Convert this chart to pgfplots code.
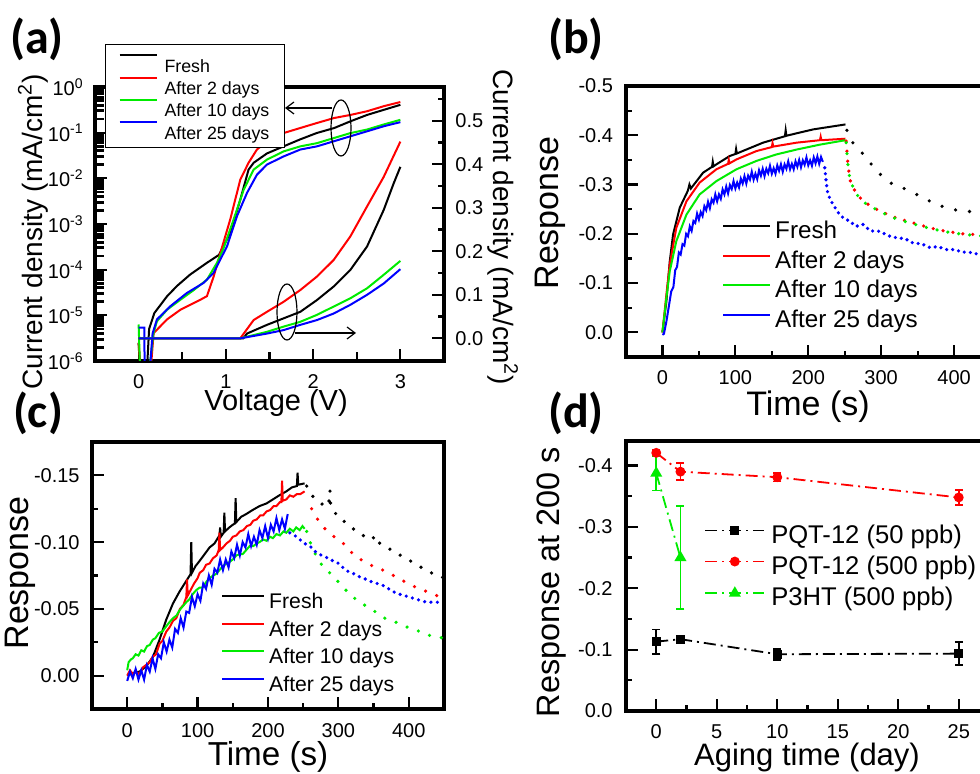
\documentclass[border=0pt]{standalone}
\usepackage{fontspec}
\setmainfont{Liberation Sans}
\newfontfamily\panelfont{Carlito}
\usepackage{pgfplots}
\pgfplotsset{compat=1.18}
\usetikzlibrary{arrows.meta}

\definecolor{cred}{RGB}{255,0,0}
\definecolor{cgreen}{RGB}{0,235,0}
\definecolor{cblue}{RGB}{0,0,255}

\pgfplotsset{
  panel/.style={
    scale only axis, anchor=south west,
    axis line style={line width=1.6pt},
    tick align=inside, major tick length=6pt, minor tick length=3pt,
    every tick/.append style={black, line width=1.1pt},
    tick label style={font=\fontsize{10}{12}\selectfont, inner sep=0pt},
    /pgf/number format/assume math mode=true,
    xticklabel shift=6.5pt, yticklabel shift=5.5pt,
  },
  sol/.style={line width=1pt, no markers},
  dots/.style={line width=1.8pt, line cap=round, dash pattern=on 0pt off #1, no markers, forget plot},
  dots/.default=4pt,
  dd/.style={line width=0.9pt, dash pattern=on 6pt off 2.5pt on 1pt off 2.5pt},
}

\begin{document}
\begin{tikzpicture}
\useasboundingbox (0,0) rectangle (490pt,387pt);
\clip (0,0) rectangle (490pt,387pt);

% ---------- (a) log axis ----------
\begin{axis}[panel, at={(47.5pt,206.5pt)}, width=174.5pt, height=137pt,
  ymode=log, xmin=-0.5, xmax=3.5, ymin=1e-6, ymax=1,
  xtick={0,1,2,3}, minor xtick={0.5,1.5,2.5},
  ytick={1e-6,1e-5,1e-4,1e-3,1e-2,1e-1,1},
  yticklabels={10\textsuperscript{-6},10\textsuperscript{-5},10\textsuperscript{-4},10\textsuperscript{-3},10\textsuperscript{-2},10\textsuperscript{-1},10\textsuperscript{0}},
  minor ytick={2e-6,3e-6,4e-6,5e-6,6e-6,7e-6,8e-6,9e-6,
    2e-5,3e-5,4e-5,5e-5,6e-5,7e-5,8e-5,9e-5,
    2e-4,3e-4,4e-4,5e-4,6e-4,7e-4,8e-4,9e-4,
    2e-3,3e-3,4e-3,5e-3,6e-3,7e-3,8e-3,9e-3,
    2e-2,3e-2,4e-2,5e-2,6e-2,7e-2,8e-2,9e-2,
    0.2,0.3,0.4,0.5,0.6,0.7,0.8,0.9},
  minor y tick style={line width=1.4pt},
  minor tick length=4.5pt,
  xtick pos=bottom, ytick pos=left,
  legend style={at={(axis description cs:0.0287,1.157)}, anchor=north west,
    draw=black, line width=0.5pt, fill=white, inner xsep=6.5pt, inner ysep=3pt,
    font=\fontsize{8.9}{10}\selectfont, row sep=-1.1pt,
    nodes={inner sep=1pt, text height=1.0em, text depth=0.02em},
    /tikz/every odd column/.append style={column sep=2.5pt}},
  legend image code/.code={\draw[#1] (0pt,0.36em) -- (18.5pt,0.36em);},
  legend cell align=left,
]
\addplot[sol, black] coordinates {(0.0,2.5e-6) (0.02,4e-7) (0.09,4e-7) (0.12,5e-6) (0.18,1.12e-5)
  (0.325,2.6e-5) (0.44,4.4e-5) (0.59,7.8e-5) (0.78,1.4e-4) (0.92,2.1e-4) (1.05,6.3e-4)
  (1.165,3.4e-3) (1.26,1.55e-2) (1.32,2.2e-2) (1.47,3.5e-2) (1.66,5.0e-2) (1.85,7.1e-2)
  (2.04,9.8e-2) (2.24,0.126) (2.43,0.178) (2.62,0.245) (2.81,0.316) (3.0,0.407)};
\addlegendentry{Fresh}
\addplot[sol, cred] coordinates {(0.0,2.5e-6) (0.03,4e-7) (0.13,4e-7) (0.172,4.07e-6) (0.325,8.13e-6)
  (0.478,1.32e-5) (0.707,2.19e-5) (0.783,2.63e-5) (0.86,7.08e-5) (0.936,2.29e-4) (1.05,1.26e-3)
  (1.165,9.33e-3) (1.26,2.19e-2) (1.356,4.27e-2) (1.47,6.46e-2) (1.66,9.77e-2) (1.85,0.126)
  (2.04,0.162) (2.24,0.209) (2.43,0.245) (2.62,0.295) (2.81,0.380) (3.0,0.468)};
\addlegendentry{After 2 days}
\addplot[sol, cgreen] coordinates {(0.0,6.3e-6) (0.02,4e-7) (0.11,4e-7) (0.17,4e-6) (0.21,7.41e-6)
  (0.325,1.32e-5) (0.478,2.19e-5) (0.63,3.55e-5) (0.783,6.03e-5) (0.898,1.41e-4) (0.974,2.95e-4)
  (1.089,1.26e-3) (1.204,5.62e-3) (1.318,1.55e-2) (1.471,2.57e-2) (1.662,3.89e-2) (1.853,5.01e-2)
  (2.044,5.89e-2) (2.235,7.59e-2) (2.426,9.77e-2) (2.618,0.117) (2.809,0.151) (3.0,0.191)};
\addlegendentry{After 10 days}
\addplot[sol, cblue] coordinates {(0.0,5.4e-6) (0.065,5.4e-6) (0.07,4e-7) (0.12,4e-7) (0.16,4e-6)
  (0.21,8.13e-6) (0.363,1.58e-5) (0.554,3.09e-5) (0.745,5.13e-5) (0.86,8.51e-5) (0.936,1.66e-4)
  (1.013,3.24e-4) (1.127,1.48e-3) (1.242,4.79e-3) (1.356,1.20e-2) (1.471,2.0e-2) (1.662,3.02e-2)
  (1.853,4.27e-2) (2.044,5.01e-2) (2.235,6.46e-2) (2.426,8.32e-2) (2.618,0.107) (2.809,0.138) (3.0,0.170)};
\addlegendentry{After 25 days}
\end{axis}

% ---------- (a) linear right axis ----------
\begin{axis}[panel, at={(47.5pt,206.5pt)}, width=174.5pt, height=137pt,
  xmin=-0.5, xmax=3.5, ymin=-0.052, ymax=0.5775,
  axis x line=none, axis y line*=right,
  ytick={0,0.1,0.2,0.3,0.4,0.5}, yticklabels={0.0,0.1,0.2,0.3,0.4,0.5},
  minor ytick={0.05,0.15,0.25,0.35,0.45,0.55},
]
\addplot[sol, black] coordinates {(0,0) (1.2,0) (1.242,0.011) (1.471,0.031) (1.662,0.046) (1.853,0.061)
  (2.044,0.088) (2.235,0.119) (2.426,0.157) (2.618,0.211) (2.809,0.295) (2.923,0.356) (3.0,0.394)};
\addplot[sol, cred] coordinates {(0,0) (1.165,0) (1.318,0.042) (1.471,0.061) (1.662,0.084) (1.853,0.111)
  (2.044,0.142) (2.235,0.18) (2.426,0.234) (2.618,0.303) (2.809,0.371) (3.0,0.452)};
\addplot[sol, cgreen] coordinates {(0,0) (1.165,0) (1.471,0.015) (1.662,0.027) (1.853,0.038) (2.044,0.054)
  (2.235,0.073) (2.426,0.092) (2.618,0.115) (2.809,0.146) (3.0,0.178)};
\addplot[sol, cblue] coordinates {(0,0) (1.165,0) (1.471,0.011) (1.662,0.019) (1.853,0.031) (2.044,0.042)
  (2.235,0.057) (2.426,0.077) (2.618,0.10) (2.809,0.126) (3.0,0.159)};
\end{axis}

% ---------- (b) ----------
\begin{axis}[panel, at={(313pt,208.5pt)}, width=200.5pt, height=135.5pt,
  xmin=-50, xmax=500, ymin=-0.5, ymax=0.05, y dir=reverse,
  xtick={0,100,200,300,400,500}, minor xtick={50,150,250,350,450},
  ytick={-0.5,-0.4,-0.3,-0.2,-0.1,0}, yticklabels={-0.5,-0.4,-0.3,-0.2,-0.1,0.0},
  minor ytick={-0.45,-0.35,-0.25,-0.15,-0.05},
  xtick pos=bottom, ytick pos=left,
  yticklabel shift=6.3pt,
  legend style={at={(axis description cs:0.239,0.502)}, anchor=north west,
    draw=none, fill=none, inner sep=0pt,
    font=\fontsize{12.1}{14}\selectfont, row sep=3.2pt,
    nodes={inner sep=1pt, text height=0.75em, text depth=0.22em},
    /tikz/every odd column/.append style={column sep=1pt}},
  legend image code/.code={\draw[#1] (0pt,0.36em) -- (23.5pt,0.36em);},
  legend cell align=left,
]
\addplot[sol, black] coordinates {(0,0) (5.4,-0.063) (10,-0.144) (14.6,-0.199) (23.7,-0.253) (35,-0.288)
  (37,-0.30) (39,-0.292) (55.7,-0.324) (68,-0.336) (69,-0.346) (70,-0.337) (74,-0.341) (92.4,-0.358)
  (100,-0.362) (101,-0.372) (102,-0.363) (115,-0.371) (138,-0.385) (161,-0.395) (168,-0.398)
  (169,-0.41) (170,-0.399) (184,-0.404) (207,-0.412) (229,-0.417) (251,-0.422)};
\addlegendentry{Fresh}
\addplot[sol, cred] coordinates {(0,0) (5.4,-0.077) (10,-0.138) (19,-0.212) (32.9,-0.266) (51,-0.304)
  (74,-0.331) (90,-0.342) (91,-0.35) (92,-0.343) (101.5,-0.351) (129,-0.368) (150,-0.376) (151,-0.384)
  (152,-0.377) (156,-0.378) (184,-0.385) (216,-0.39) (217,-0.397) (218,-0.39) (251,-0.393)};
\addlegendentry{After 2 days}
\addplot[sol, cgreen] coordinates {(0,0) (5.4,-0.07) (10,-0.124) (19,-0.185) (32.9,-0.239) (51,-0.28)
  (74,-0.307) (101.5,-0.331) (129,-0.348) (156,-0.361) (184,-0.371) (216,-0.381) (251,-0.39)};
\addlegendentry{After 10 days}
\addplot[sol, cblue] coordinates {(0,0.005) (2,0.003) (5.4,-0.022) (9,-0.055) (12,-0.083) (15,-0.092)
  (17.5,-0.126) (20,-0.133) (22.5,-0.162) (25,-0.158) (27.5,-0.179) (30,-0.176) (32.5,-0.200)
  (35,-0.195) (37.5,-0.215) (40,-0.206) (42.5,-0.226) (45,-0.222) (47.5,-0.241) (50,-0.229)
  (52.5,-0.244) (55,-0.236) (57.5,-0.256) (60,-0.248) (62.5,-0.265) (65,-0.252) (67.5,-0.270)
  (70,-0.263) (72.5,-0.280) (75,-0.266) (77.5,-0.280) (80,-0.271) (82.5,-0.290) (85,-0.280)
  (87.5,-0.296) (90,-0.282) (92.5,-0.299) (95,-0.291) (97.5,-0.307) (100,-0.292) (102.5,-0.304)
  (105,-0.294) (107.5,-0.312) (110,-0.302) (112.5,-0.317) (115,-0.302) (117.5,-0.318) (120,-0.310)
  (122.5,-0.326) (125,-0.310) (127.5,-0.322) (130,-0.311) (132.5,-0.329) (135,-0.318) (137.5,-0.332)
  (140,-0.317) (142.5,-0.332) (145,-0.323) (147.5,-0.338) (150,-0.322) (152.5,-0.333) (155,-0.322)
  (157.5,-0.339) (160,-0.328) (162.5,-0.341) (165,-0.326) (167.5,-0.341) (170,-0.332) (172.5,-0.347)
  (175,-0.331) (177.5,-0.342) (180,-0.331) (182.5,-0.347) (185,-0.336) (187.5,-0.350) (190,-0.335)
  (192.5,-0.349) (195,-0.340) (197.5,-0.355) (200,-0.339) (202.5,-0.349) (205,-0.338) (207.5,-0.355)
  (210,-0.343) (212.5,-0.357) (215,-0.342) (217.5,-0.356) (220,-0.346)};
\addlegendentry{After 25 days}
\addplot[dots=7pt, black] coordinates {(253,-0.41) (258,-0.39) (274,-0.364) (296,-0.324) (316,-0.300)
  (335,-0.29) (358,-0.273) (376,-0.259) (399,-0.249) (417,-0.246) (435,-0.243) (470,-0.238) (500,-0.233)};
\addplot[dots=5pt, cred] coordinates {(252,-0.388) (254,-0.348) (257,-0.31) (264,-0.287) (275,-0.266)
  (298,-0.246) (321,-0.232) (344,-0.222) (367,-0.212) (389,-0.205) (412,-0.20) (435,-0.198) (500,-0.19)};
\addplot[dots=5.5pt, cgreen] coordinates {(252,-0.385) (254,-0.345) (257,-0.312) (264,-0.284) (275,-0.265)
  (298,-0.245) (321,-0.23) (344,-0.22) (367,-0.211) (389,-0.204) (412,-0.199) (435,-0.196) (500,-0.188)};
\addplot[dots=3pt, cblue] coordinates {(222.6,-0.334) (225,-0.30) (227,-0.28) (234,-0.259) (243,-0.239)
  (250,-0.23) (257,-0.226) (265,-0.215) (275,-0.219) (285,-0.206) (298,-0.205) (310,-0.196) (321,-0.192)
  (333,-0.19) (344,-0.181) (355,-0.18) (367,-0.172) (378,-0.174) (389,-0.168) (400,-0.168) (412,-0.163)
  (423,-0.162) (435,-0.158) (470,-0.152) (500,-0.148)};
\end{axis}

% ---------- (c) ----------
\begin{axis}[panel, at={(46pt,32.5pt)}, width=176pt, height=133.5pt,
  xmin=-50, xmax=450, ymin=-0.175, ymax=0.025, y dir=reverse,
  xtick={0,100,200,300,400}, minor xtick={50,150,250,350},
  ytick={-0.15,-0.10,-0.05,0}, yticklabels={-0.15,-0.10,-0.05,0.00},
  minor ytick={-0.125,-0.075,-0.025},
  xtick pos=bottom, ytick pos=left,
  xticklabel shift=7.3pt, yticklabel shift=6pt,
  legend style={at={(axis description cs:0.366,0.4425)}, anchor=north west,
    draw=none, fill=none, inner sep=0pt,
    font=\fontsize{10.6}{12}\selectfont, row sep=2.2pt,
    nodes={inner sep=1pt, text height=0.75em, text depth=0.22em},
    /tikz/every odd column/.append style={column sep=1pt}},
  legend image code/.code={\draw[#1] (0pt,0.36em) -- (21pt,0.36em);},
  legend cell align=left,
]
\addplot[sol, black] coordinates {(0,0) (8,-0.002) (17.5,-0.003) (27,-0.007) (36.5,-0.014) (46,-0.027)
  (55.5,-0.042) (65,-0.054) (74.4,-0.063) (84,-0.071) (90,-0.076) (91,-0.1) (92,-0.077) (97,-0.082)
  (103,-0.086) (110,-0.091) (117,-0.096) (124,-0.099) (131,-0.105) (132,-0.111) (133,-0.104) (137,-0.107)
  (138,-0.122) (139,-0.108) (145,-0.111) (150,-0.113) (153,-0.114) (154,-0.133) (155,-0.115) (162,-0.119)
  (169,-0.121) (178,-0.124) (188,-0.127) (198,-0.129) (207,-0.132) (216,-0.135) (226,-0.138) (234,-0.141)
  (241,-0.142) (242,-0.152) (243,-0.143) (252,-0.144)};
\addlegendentry{Fresh}
\addplot[sol, cred] coordinates {(0,0) (4,-0.004) (8,-0.001) (12,-0.003) (17.5,-0.001) (22,-0.006)
  (27,-0.008) (32,-0.01) (36,-0.014) (41,-0.016) (46,-0.024) (50,-0.026) (55.5,-0.033) (60,-0.036)
  (65,-0.041) (69.7,-0.043) (75,-0.05) (80,-0.053) (84,-0.059) (85,-0.072) (86,-0.06) (90,-0.064)
  (95,-0.069) (100,-0.073) (103,-0.077) (108,-0.079) (112,-0.083) (117,-0.084) (122,-0.088) (127,-0.09)
  (130,-0.094) (131,-0.107) (132,-0.094) (136,-0.096) (141,-0.099) (146,-0.101) (150,-0.104) (155,-0.105)
  (160,-0.108) (165,-0.109) (170,-0.112) (175,-0.113) (179,-0.116) (184,-0.117) (189,-0.12) (193,-0.12)
  (198,-0.123) (203,-0.124) (208,-0.127) (212,-0.127) (217,-0.13) (219,-0.13) (220,-0.146) (221,-0.131)
  (226,-0.132) (231,-0.135) (236,-0.134) (241,-0.136) (246,-0.136) (252,-0.138)};
\addlegendentry{After 2 days}
\addplot[sol, cgreen] coordinates {(0,-0.004) (2,-0.01) (5,-0.012) (8,-0.013) (12,-0.016) (16,-0.015)
  (20,-0.019) (24,-0.018) (28,-0.022) (32,-0.023) (36.5,-0.027) (40,-0.028) (45,-0.032) (50,-0.033)
  (55.5,-0.037) (60,-0.04) (65,-0.043) (70,-0.045) (74.4,-0.049) (79,-0.052) (84,-0.055) (88,-0.057)
  (93,-0.061) (98,-0.064) (103,-0.066) (107,-0.066) (112,-0.07) (117,-0.073) (122,-0.075) (126,-0.076)
  (131,-0.079) (136,-0.082) (141,-0.084) (145,-0.085) (150,-0.087) (155,-0.09) (160,-0.091) (164,-0.091)
  (169,-0.094) (174,-0.097) (179,-0.097) (184,-0.099) (188,-0.1) (193,-0.102) (198,-0.101) (203,-0.104)
  (207,-0.103) (212,-0.106) (217,-0.105) (222,-0.108) (226,-0.107) (231,-0.11) (236,-0.108) (240,-0.111)
  (245,-0.109) (249,-0.112) (252,-0.11)};
\addlegendentry{After 10 days}
\addplot[sol, cblue] coordinates {(0,0.004) (4,-0.003) (8,0.002) (12,-0.005) (16,0.003) (20,-0.004)
  (24,0.003) (28,-0.008) (32,-0.003) (36,-0.013) (40,-0.005) (44,-0.016) (48,-0.013) (52,-0.025)
  (56,-0.018) (60,-0.027) (64,-0.021) (68,-0.035) (72,-0.032) (76,-0.043) (80,-0.036) (84,-0.048)
  (88,-0.047) (92,-0.059) (96,-0.052) (100,-0.061) (104,-0.056) (108,-0.069) (112,-0.065) (116,-0.075)
  (120,-0.068) (124,-0.080) (128,-0.077) (132,-0.087) (136,-0.079) (140,-0.087) (144,-0.081) (148,-0.093)
  (152,-0.088) (156,-0.098) (160,-0.090) (164,-0.100) (168,-0.096) (172,-0.106) (176,-0.097) (180,-0.104)
  (184,-0.098) (188,-0.109) (192,-0.103) (196,-0.112) (200,-0.103) (204,-0.113) (208,-0.108) (212,-0.118)
  (216,-0.109) (220,-0.117) (224,-0.110) (228,-0.121)};
\addlegendentry{After 25 days}
\addplot[dots=6pt, black] coordinates {(255,-0.142) (264,-0.134) (271,-0.131) (278,-0.128) (286,-0.127)
  (288,-0.139) (289,-0.127) (293,-0.124) (300,-0.118) (307,-0.116) (314,-0.113) (321,-0.11) (328,-0.107)
  (335,-0.105) (342,-0.103) (349,-0.102) (351,-0.105) (355,-0.101) (361,-0.098) (368,-0.096) (376,-0.094)
  (385,-0.091) (392,-0.089) (399,-0.087) (408,-0.084) (418,-0.081) (426,-0.079) (435,-0.076) (442,-0.075) (450,-0.073)};
\addplot[dots=6pt, cred] coordinates {(262,-0.125) (267,-0.12) (273,-0.115) (281,-0.11) (290,-0.106)
  (298,-0.102) (307,-0.099) (314,-0.095) (321,-0.091) (328,-0.088) (335,-0.086) (342,-0.084) (349,-0.082)
  (356,-0.08) (364,-0.079) (371,-0.077) (378,-0.075) (385,-0.073) (392,-0.071) (402,-0.068) (411,-0.066)
  (418,-0.065) (425,-0.063) (435,-0.061) (444,-0.059) (450,-0.058)};
\addplot[dots=6pt, cgreen] coordinates {(255,-0.108) (259,-0.101) (264,-0.095) (269,-0.089) (275,-0.084)
  (281,-0.08) (290,-0.076) (302,-0.069) (309,-0.065) (316,-0.061) (323,-0.058) (330,-0.055) (340,-0.052)
  (349,-0.049) (358,-0.046) (366,-0.043) (376,-0.041) (387,-0.039) (399,-0.036) (411,-0.034) (420,-0.032)
  (430,-0.03) (440,-0.029) (450,-0.028)};
\addplot[dots=3.2pt, cblue] coordinates {(231,-0.107) (238,-0.105) (245,-0.102) (252,-0.099) (262,-0.096)
  (267,-0.093) (273,-0.091) (280,-0.089) (286,-0.088) (292,-0.086) (298,-0.085) (304,-0.082) (311,-0.079)
  (317,-0.077) (324,-0.076) (330,-0.074) (336,-0.073) (343,-0.071) (349,-0.07) (355,-0.069) (362,-0.068)
  (368,-0.066) (375,-0.064) (381,-0.062) (387,-0.061) (393,-0.06) (400,-0.059) (406,-0.058) (412,-0.057)
  (419,-0.056) (425,-0.055) (432,-0.055) (440,-0.055) (446,-0.055)};
\end{axis}

% ---------- (d) ----------
\begin{axis}[panel, at={(313pt,31.5pt)}, width=181.5pt, height=135pt,
  xmin=-2.5, xmax=27.5, ymin=-0.44, ymax=0, y dir=reverse,
  xtick={0,5,10,15,20,25}, minor xtick={2.5,7.5,12.5,17.5,22.5},
  ytick={-0.4,-0.3,-0.2,-0.1,0}, yticklabels={-0.4,-0.3,-0.2,-0.1,0.0},
  minor ytick={-0.35,-0.25,-0.15,-0.05},
  xtick pos=bottom, ytick pos=left,
  yticklabel shift=6.5pt,
  legend style={at={(axis description cs:0.215,0.6865)}, anchor=north west,
    draw=none, fill=none, inner sep=0pt,
    font=\fontsize{12.8}{14}\selectfont, row sep=3.8pt,
    nodes={inner sep=1pt, text height=0.75em, text depth=0.22em},
    /tikz/every odd column/.append style={column sep=2pt}},
  legend image code/.code={\draw[mark repeat=2,mark phase=2,#1] plot coordinates {(0pt,0.36em) (14.75pt,0.36em) (29.5pt,0.36em)};},
  legend cell align=left,
]
\addplot[dd, black, mark=square*, mark size=1.8pt, mark options={solid},
  error bars/.cd, y dir=both, y explicit, error bar style={solid, line width=0.8pt},
  error mark options={rotate=90, mark size=2pt, solid, line width=0.8pt}]
  coordinates {(0,-0.113) +- (0,0.020) (2,-0.117) +- (0,0.006) (10,-0.0925) +- (0,0.009) (25,-0.0935) +- (0,0.019)};
\addlegendentry{PQT-12 (50 ppb)}
\addplot[dd, cred, mark=*, mark size=2pt, mark options={solid},
  error bars/.cd, y dir=both, y explicit, error bar style={solid, line width=0.8pt},
  error mark options={rotate=90, mark size=2pt, solid, line width=0.8pt}]
  coordinates {(0,-0.4207) +- (0,0.005) (2,-0.39) +- (0,0.014) (10,-0.381) +- (0,0.007) (25,-0.348) +- (0,0.012)};
\addlegendentry{PQT-12 (500 ppb)}
\addplot[dd, cgreen, mark=triangle*, mark size=2.6pt, mark options={solid},
  error bars/.cd, y dir=both, y explicit, error bar style={solid, line width=0.8pt},
  error mark options={rotate=90, mark size=2pt, solid, line width=0.8pt}]
  coordinates {(0,-0.3875) +- (0,0.028) (2,-0.25) +- (0,0.084)};
\addlegendentry{P3HT (500 ppb)}
\end{axis}

% ---------- annotations and labels ----------
\draw[line width=0.6pt] (170.5pt,323pt) ellipse [x radius=5pt, y radius=14pt];
\draw[line width=0.6pt, -{Straight Barb[length=4pt,width=6pt]}] (166pt,333pt) -- (142.5pt,333pt);
\draw[line width=0.6pt] (143.5pt,231pt) ellipse [x radius=5pt, y radius=14pt];
\draw[line width=0.6pt, -{Straight Barb[length=4pt,width=6pt]}] (147.5pt,220.5pt) -- (178pt,220.5pt);

\node[font=\panelfont\bfseries\fontsize{24}{28}\selectfont] at (18.5pt,367.5pt) {(a)};
\node[font=\panelfont\bfseries\fontsize{24}{28}\selectfont] at (288pt,367.5pt) {(b)};
\node[font=\panelfont\bfseries\fontsize{24}{28}\selectfont] at (19pt,180.5pt) {(c)};
\node[font=\panelfont\bfseries\fontsize{24}{28}\selectfont] at (288pt,180.5pt) {(d)};

\node[rotate=90, font=\fontsize{14}{16}\selectfont] at (16.5pt,271pt) {Current density (mA/cm\textsuperscript{2})};
\node[rotate=-90, font=\fontsize{14}{16}\selectfont] at (251.5pt,273.5pt) {Current density (mA/cm\textsuperscript{2})};
\node[font=\fontsize{14.5}{16}\selectfont] at (138pt,185.5pt) {Voltage (V)};
\node[rotate=90, font=\fontsize{17}{19}\selectfont] at (275pt,280.5pt) {Response};
\node[font=\fontsize{17}{19}\selectfont] at (404pt,183.5pt) {Time (s)};
\node[rotate=90, font=\fontsize{17}{19}\selectfont] at (10pt,100.5pt) {Response};
\node[font=\fontsize{16.6}{19}\selectfont] at (134pt,8.5pt) {Time (s)};
\node[rotate=90, font=\fontsize{16.2}{19}\selectfont] at (276pt,96pt) {Response at 200 s};
\node[font=\fontsize{15.5}{18}\selectfont] at (403.5pt,8.5pt) {Aging time (day)};
\end{tikzpicture}
\end{document}
